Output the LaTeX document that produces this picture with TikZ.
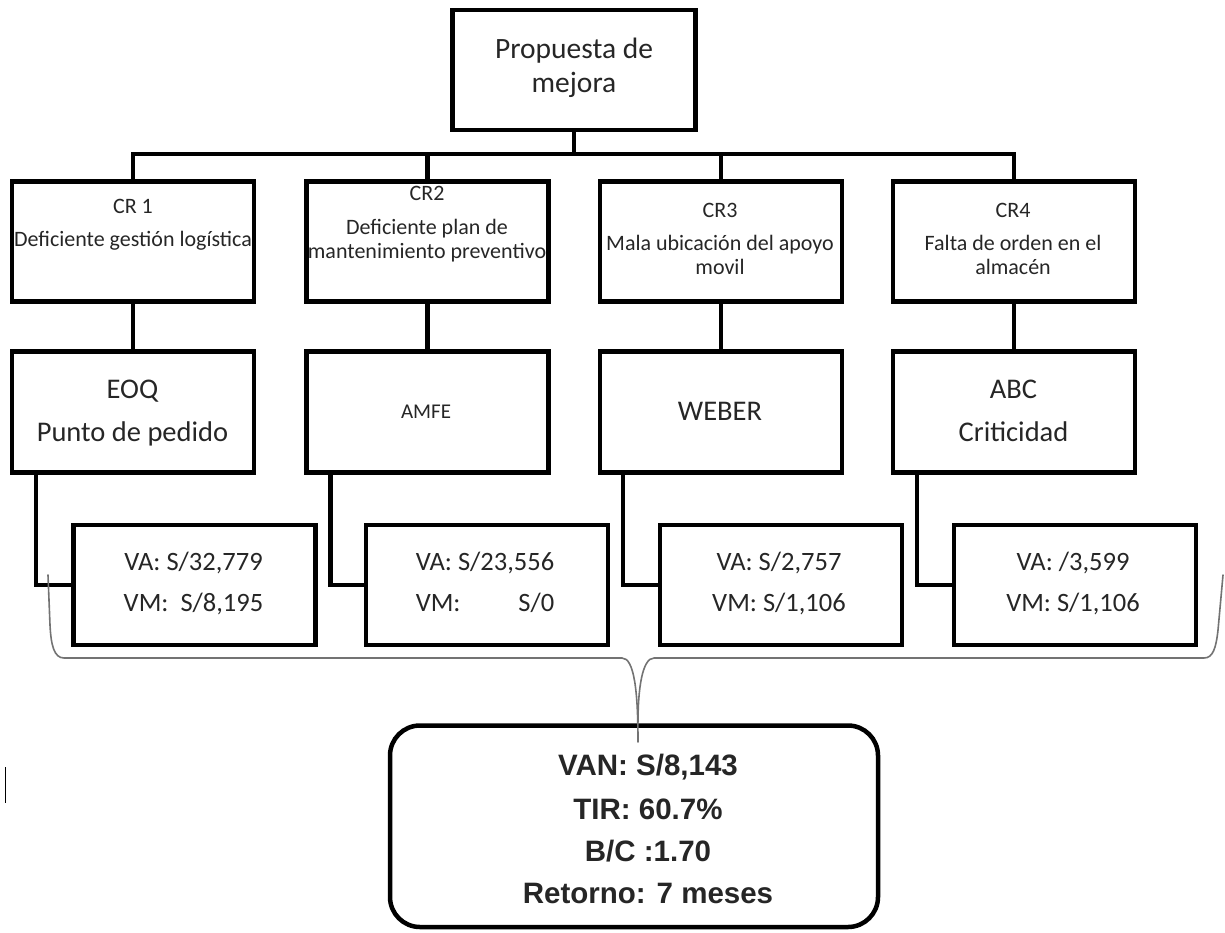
\documentclass[tikz,border=0pt]{standalone}
\usepackage{fontspec}
\setmainfont{Carlito}
\newfontfamily\sumfont{Liberation Sans}
\usetikzlibrary{calc}
\begin{document}
\begin{tikzpicture}[x=1pt,y=-1pt,
  box/.style={draw=black, line width=4.5pt, rectangle, inner sep=0pt, outer sep=0pt,
              minimum width=242pt, minimum height=120pt},
  link/.style={draw=black, line width=4.5pt},
  txt/.style={anchor=base, inner sep=0pt, outer sep=0pt, text=black!85},
  toptext/.style={txt, font=\fontsize{29.5}{34}\selectfont},
  crtext/.style={txt, font=\fontsize{22}{24}\selectfont},
  methtext/.style={txt, font=\fontsize{28.5}{32}\selectfont},
  smallmeth/.style={txt, font=\fontsize{21}{24}\selectfont},
  valtext/.style={txt, font=\fontsize{26.5}{30}\selectfont},
  sumtext/.style={txt, font=\sumfont\bfseries\fontsize{29.5}{33}\selectfont},
  brace/.style={draw=black!55, line width=1.6pt, line cap=round}]

\useasboundingbox (0,0) rectangle (1225,932);

% root
\node[box, minimum width=243pt] (top) at (574,70) {};
\node[toptext] (topA) at (574,58.5) {Propuesta de};
\node[toptext] (topB) at (574,92) {mejora};

% root causes
\node[box] (cr1) at (133,241.5) {};
\node[box] (cr2) at (427.5,241.5) {};
\node[box] (cr3) at (721,241.5) {};
\node[box] (cr4) at (1014,241.5) {};

\node[crtext] (cr1a) at (133,213.3) {CR 1};
\node[crtext] (cr1b) at (133,246.5) {Deficiente gestión logística};
\node[crtext] (cr2a) at (427,200.7) {CR2};
\node[crtext] (cr2b) at (427,234.3) {Deficiente plan de};
\node[crtext] (cr2c) at (427,258.3) {mantenimiento preventivo};
\node[crtext] (cr3a) at (720,217.3) {CR3};
\node[crtext] (cr3b) at (720,250.7) {Mala ubicación del apoyo};
\node[crtext] (cr3c) at (720,274.3) {movil};
\node[crtext] (cr4a) at (1013,217.3) {CR4};
\node[crtext] (cr4b) at (1013,250.7) {Falta de orden en el};
\node[crtext] (cr4c) at (1013,274.3) {almacén};

% tools
\node[box, minimum height=121pt] (m1) at (133,412) {};
\node[box, minimum height=121pt] (m2) at (427.5,412) {};
\node[box, minimum height=121pt] (m3) at (721,412) {};
\node[box, minimum height=121pt] (m4) at (1014,412) {};

\node[methtext] (m1a) at (132.5,398.3) {EOQ};
\node[methtext] (m1b) at (132.5,441) {Punto de pedido};
\node[smallmeth] (m2a) at (426,418.3) {AMFE};
\node[methtext] (m3a) at (720,420) {WEBER};
\node[methtext] (m4a) at (1013.5,398.3) {ABC};
\node[methtext] (m4b) at (1013.5,441) {Criticidad};

% values
\node[box] (v1) at (194.5,585) {};
\node[box] (v2) at (487,585) {};
\node[box] (v3) at (781,585) {};
\node[box] (v4) at (1075,585) {};

\node[valtext] (v1a) at (193.5,570.5) {VA: S/32,779};
\node[valtext] (v1b) at (193.5,611) {VM:\ \ S/8,195};
\node[valtext] (v2a) at (485,570.5) {VA: S/23,556};
\node[valtext, anchor=base west] (v2b) at ([yshift=-40.5pt]v2a.base west) {VM:};
\node[valtext, anchor=base east] (v2c) at ([yshift=-40.5pt]v2a.base east) {S/0};
\node[valtext] (v3a) at (779,570.5) {VA: S/2,757};
\node[valtext] (v3b) at (779,611) {VM: S/1,106};
\node[valtext] (v4a) at (1073,570.5) {VA: /3,599};
\node[valtext] (v4b) at (1073,611) {VM: S/1,106};

% summary
\node[draw=black, line width=4.5pt, rounded corners=30pt, inner sep=0pt, outer sep=0pt,
      minimum width=488pt, minimum height=201.5pt] (sum) at (634,826.25) {};
\node[sumtext] (s1) at (648,775) {VAN: S/8,143};
\node[sumtext] (s2) at (648,819.3) {TIR: 60.7\%};
\node[sumtext] (s3) at (648,861.7) {B/C :1.70};
\node[sumtext] (s4) at (648,903.3) {Retorno: 7 meses};

% tree connectors
\draw[link] (top.south) -- ++(0,24) coordinate (bus);
\draw[link] (cr1.north) |- (bus) -| (cr4.north);
\draw[link] (cr2.north) -- (cr2.north |- bus);
\draw[link] (cr3.north) -- (cr3.north |- bus);
\draw[link] (cr1.south) -- (m1.north);
\draw[link] (cr2.south) -- (m2.north);
\draw[link] (cr3.south) -- (m3.north);
\draw[link] (cr4.south) -- (m4.north);
\draw[link] ($(m1.south west)+(24,0)$) |- (v1.west);
\draw[link] ($(m2.south west)+(24,0)$) |- (v2.west);
\draw[link] ($(m3.south west)+(23,0)$) |- (v3.west);
\draw[link] ($(m4.south west)+(24,0)$) |- (v4.west);

% brace gathering the four value boxes
\coordinate (bl) at (48,575);
\coordinate (br) at (1223,575);
\coordinate (tip) at (638,742);
\draw[brace] (bl) -- (50,625) .. controls (51,645) and (54,658) .. (64,658)
  -- (622,658) .. controls (634,658) and (638,690) .. (tip);
\draw[brace] (br) -- (1218,630) .. controls (1216,648) and (1213,658) .. (1204,658)
  -- (654,658) .. controls (642,658) and (638,690) .. (638,722);

% small mark at the left margin
\draw[line width=1pt] (5,767) -- (5,803);
\end{tikzpicture}
\end{document}
